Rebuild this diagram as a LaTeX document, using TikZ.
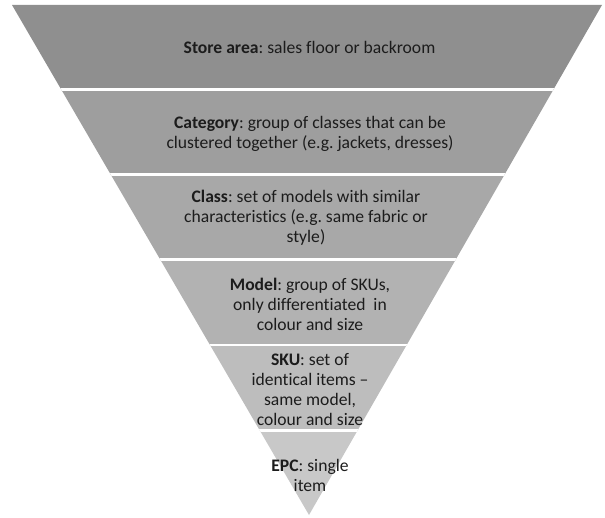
\documentclass[tikz,border=0pt]{standalone}
\usepackage{fontspec}
\setmainfont{Carlito}[Ligatures=NoCommon]
\frenchspacing
\definecolor{bandA}{RGB}{143,143,143}
\definecolor{bandB}{RGB}{158,158,158}
\definecolor{bandC}{RGB}{168,168,168}
\definecolor{bandD}{RGB}{178,178,178}
\definecolor{bandE}{RGB}{189,189,189}
\definecolor{bandF}{RGB}{200,200,200}
\definecolor{txt}{RGB}{28,28,28}
\tikzset{
  lbl/.style={align=center, font=\fontsize{17.6}{20}\selectfont, text=txt, inner sep=0pt},
  sep/.style={white, line width=2.5pt}
}
\begin{document}
\begin{tikzpicture}[x=1pt,y=-1pt]
\useasboundingbox (0,0) rectangle (605,518);
\coordinate (tl) at (12,5);
\coordinate (tr) at (602,5);
\coordinate (ap) at (309,515);
\begin{scope}
\clip (tl) -- (tr) -- (ap) -- cycle;
\fill[bandA] (0,0) rectangle (605,90);
\fill[bandB] (0,90) rectangle (605,175);
\fill[bandC] (0,175) rectangle (605,260);
\fill[bandD] (0,260) rectangle (605,345);
\fill[bandE] (0,345) rectangle (605,430);
\fill[bandF] (0,430) rectangle (605,518);
\draw[sep] (0,89.5) -- (605,89.5);
\draw[sep] (0,174.5) -- (605,174.5);
\draw[sep] (0,259.5) -- (605,259.5);
\draw[sep] (0,345) -- (605,345);
\draw[sep] (0,430.5) -- (605,430.5);
\end{scope}
\node[lbl] (store) at (309.5,47) {\textbf{Store area}: sales floor or backroom};
\node[lbl] (cat) at (310,134) {\textbf{Category}: group of classes that can be\\clustered together (e.g. jackets, dresses)};
\node[lbl] (class) at (306,218) {\textbf{Class}: set of models with similar\\characteristics (e.g. same fabric or\\style)};
\node[lbl] (model) at (310,304) {\textbf{Model}: group of SKUs,\\only differentiated\ \ in\\colour and size};
\node[lbl] (sku) at (310,390) {\textbf{SKU}: set of\\identical items --\\same model,\\colour and size};
\node[lbl] (epc) at (310,475) {\textbf{EPC}: single\\item};
\end{tikzpicture}
\end{document}
